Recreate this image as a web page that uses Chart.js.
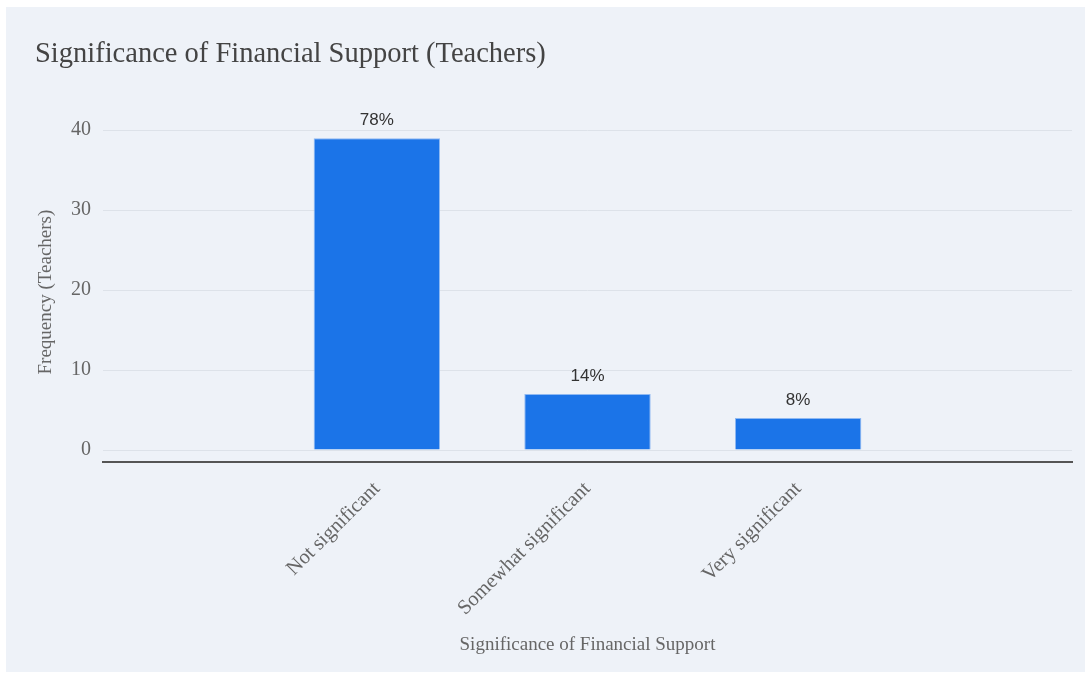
<!DOCTYPE html>
<html>
<head>
<meta charset="utf-8">
<script src="https://cdn.jsdelivr.net/npm/chart.js@4"></script>
<style>
  html, body { margin: 0; padding: 0; background: #fff; }
  #panel {
    position: absolute;
    left: 6px;
    top: 7px;
    width: 1079px;
    height: 665px;
    background: #eef2f8;
  }
</style>
</head>
<body>
<div id="panel"><canvas id="chart"></canvas></div>
<script>
const categories = ["Not significant", "Somewhat significant", "Very significant"];
const counts = [39, 7, 4];
const yTicks = [0, 10, 20, 30, 40];

const total = counts.reduce((a, b) => a + b, 0);
const percents = counts.map(c => Math.round(c / total * 100));

const serif = "'Liberation Serif', 'Times New Roman', serif";

// percentage text above each bar
const barLabels = {
  id: "barLabels",
  afterDatasetsDraw(chart) {
    const ctx = chart.ctx;
    const meta = chart.getDatasetMeta(0);
    ctx.save();
    ctx.font = "17px 'Liberation Sans', Arial, sans-serif";
    ctx.fillStyle = "#333";
    ctx.textAlign = "center";
    ctx.textBaseline = "bottom";
    meta.data.forEach((bar, i) => {
      ctx.fillText(percents[i] + "%", bar.x, bar.y - 9);
    });
    ctx.restore();
  }
};

new Chart(document.getElementById("chart"), {
  type: "bar",
  data: {
    datasets: [{
      data: counts.map((c, i) => ({ x: i, y: c })),
      backgroundColor: "#1b74e8",
      borderColor: "#8fb9f2",
      borderWidth: 1,
      barPercentage: 0.6,
      categoryPercentage: 1.0
    }]
  },
  options: {
    responsive: true,
    maintainAspectRatio: false,
    animation: false,
    layout: { padding: { left: 29, right: 13, top: 0, bottom: 0 } },
    plugins: {
      legend: { display: false },
      tooltip: { enabled: false },
      title: {
        display: true,
        text: "Significance of Financial Support (Teachers)",
        align: "start",
        color: "#444",
        font: { family: serif, size: 28.5, weight: "normal", lineHeight: 1.2 },
        padding: { top: 30, bottom: 51 }
      }
    },
    scales: {
      x: {
        type: "linear",
        offset: false,
        min: -1.3,
        max: 3.3,
        afterBuildTicks: scale => { scale.ticks = categories.map((_, i) => ({ value: i })); },
        afterFit: scale => { scale.height = 210; },
        grid: { display: false },
        border: { display: true, color: "#555", width: 2 },
        ticks: {
          minRotation: 45,
          maxRotation: 45,
          padding: 7,
          color: "#666",
          font: { family: serif, size: 20.5 },
          callback: v => categories[v]
        },
        title: {
          display: true,
          text: "Significance of Financial Support",
          color: "#666",
          font: { family: serif, size: 19, lineHeight: 1.2 },
          padding: { top: 0, bottom: 16 }
        }
      },
      y: {
        min: -1.5,
        max: 41,
        afterBuildTicks: scale => { scale.ticks = yTicks.map(v => ({ value: v })); },
        afterFit: scale => { scale.width = 68; },
        grid: { color: "#dde2e9", lineWidth: 1, drawTicks: false },
        border: { display: false },
        ticks: {
          padding: 12,
          color: "#666",
          font: { family: serif, size: 20 }
        },
        title: {
          display: true,
          text: "Frequency (Teachers)",
          color: "#666",
          font: { family: serif, size: 19, lineHeight: 1.2 },
          padding: { top: 0, bottom: 0 }
        }
      }
    }
  },
  plugins: [barLabels]
});
</script>
</body>
</html>
